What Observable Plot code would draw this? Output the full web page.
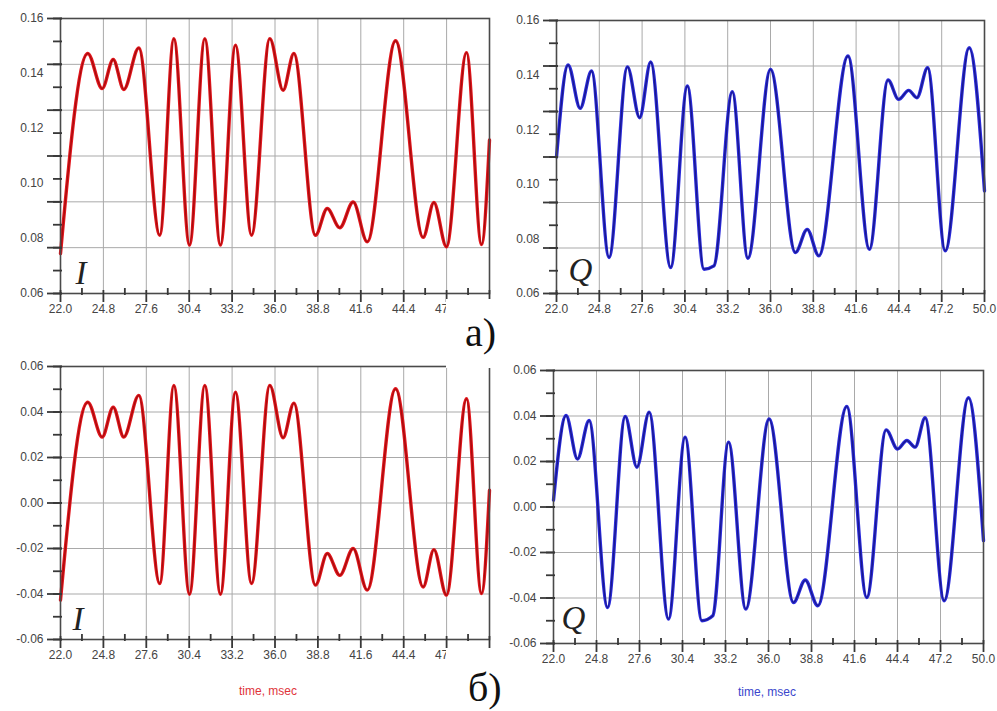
<!DOCTYPE html>
<html><head><meta charset="utf-8">
<script src="https://cdn.jsdelivr.net/npm/d3@7"></script>
<script src="https://cdn.jsdelivr.net/npm/@observablehq/plot@0.6"></script>
<style>
body{margin:0;background:#fff;width:997px;height:711px;overflow:hidden;position:relative;font-family:"Liberation Sans",Arial,sans-serif}
.panel{position:absolute}
.mask{position:absolute;background:#fff}
.tag{position:absolute;font-family:"Liberation Serif","Times New Roman",serif;font-size:40px;line-height:1;color:#111}
.xl{position:absolute;font-size:12px;line-height:1;transform:translateX(-50%);white-space:nowrap}
</style></head><body>
<div id="tl" class="panel" style="left:0;top:0;width:495px;height:330px"></div>
<div id="tr" class="panel" style="left:497px;top:0;width:500px;height:330px"></div>
<div id="bl" class="panel" style="left:0;top:340px;width:495px;height:340px"></div>
<div id="br" class="panel" style="left:497px;top:340px;width:500px;height:340px"></div>
<div class="mask" style="left:446px;top:299px;width:64px;height:69px"></div>
<div class="mask" style="left:446px;top:650px;width:62px;height:61px"></div>
<div class="tag" style="left:465px;top:313px">а)</div>
<div class="tag" style="left:468px;top:668px">б)</div>
<div class="xl" style="left:268px;top:685px;color:#e0343a">time, msec</div>
<div class="xl" style="left:767px;top:686px;color:#3a46cc">time, msec</div>
<script>
// ---- data ----
const xTicks = [22.0, 24.8, 27.6, 30.4, 33.2, 36.0, 38.8, 41.6, 44.4, 47.2, 50.0];
const xMinor = [23.4, 26.2, 29.0, 31.8, 34.6, 37.4, 40.2, 43.0, 45.8, 48.6];
const xLabelsLeft = [22.0, 24.8, 27.6, 30.4, 33.2, 36.0, 38.8, 41.6, 44.4, 47.2];
const xLabelsRight = [22.0, 24.8, 27.6, 30.4, 33.2, 36.0, 38.8, 41.6, 44.4, 47.2, 50.0];
const yLabelsA = [0.06, 0.08, 0.10, 0.12, 0.14, 0.16];
const yLabelsB = [-0.06, -0.04, -0.02, 0.00, 0.02, 0.04, 0.06];

const timeI = [22.0, 23.78, 24.72, 25.44, 26.13, 27.11, 28.48, 29.40, 30.42, 31.42, 32.44, 33.42, 34.47, 35.66, 36.53, 37.23, 38.64, 39.41, 40.23, 41.10, 42.02, 43.87, 45.67, 46.37, 47.19, 48.50, 49.48, 50.0];
const valIa = [0.0745, 0.1473, 0.1345, 0.1451, 0.1342, 0.1493, 0.0812, 0.1527, 0.0776, 0.1527, 0.0776, 0.1503, 0.0812, 0.1527, 0.1339, 0.1473, 0.0812, 0.0909, 0.0839, 0.0933, 0.0788, 0.1519, 0.0804, 0.0931, 0.0770, 0.1476, 0.0778, 0.1158];
const valIb = [-0.0427, 0.0443, 0.0290, 0.0421, 0.0290, 0.0473, -0.0354, 0.0517, -0.0401, 0.0517, -0.0401, 0.0487, -0.0354, 0.0517, 0.0287, 0.0439, -0.0361, -0.0222, -0.0318, -0.0200, -0.0383, 0.0502, -0.0369, -0.0205, -0.0405, 0.0458, -0.0398, 0.0056];

const timeQa = [22.0, 22.76, 23.55, 24.29, 25.44, 26.64, 27.44, 28.16, 29.47, 30.56, 31.65, 32.30, 33.50, 34.52, 36.0, 37.63, 38.40, 39.16, 41.07, 42.47, 43.69, 44.38, 45.04, 45.58, 46.28, 47.43, 49.00, 50.0];
const valQa = [0.1100, 0.1437, 0.1278, 0.1415, 0.0732, 0.1430, 0.1244, 0.1448, 0.0695, 0.1360, 0.0689, 0.0701, 0.1339, 0.0729, 0.1421, 0.0750, 0.0835, 0.0738, 0.1470, 0.0762, 0.1382, 0.1311, 0.1344, 0.1317, 0.1427, 0.0756, 0.1500, 0.0976];
const timeQb = [22.0, 22.82, 23.56, 24.32, 25.52, 26.67, 27.43, 28.23, 29.49, 30.57, 31.66, 32.37, 33.40, 34.52, 36.04, 37.63, 38.39, 39.21, 41.10, 42.40, 43.66, 44.40, 45.01, 45.55, 46.20, 47.44, 49.02, 50.0];
const valQb = [0.0030, 0.0402, 0.0211, 0.0380, -0.0442, 0.0398, 0.0175, 0.0417, -0.0493, 0.0307, -0.0500, -0.0478, 0.0285, -0.0449, 0.0387, -0.0420, -0.0321, -0.0434, 0.0442, -0.0398, 0.0339, 0.0255, 0.0292, 0.0263, 0.0392, -0.0412, 0.0480, -0.0148];

const RED = "#e3161d", RED_CORE = "#980a0a";
const BLUE = "#2b2bdc", BLUE_CORE = "#15157a";
const TICK = "#383838";

function panel(o) {
  const [y0, y1] = o.yDomain;
  const grid = d3.range(7).map(k => y0 + k * (y1 - y0) / 6);
  const minorY = d3.range(13).map(k => y0 + k * (y1 - y0) / 12);
  const data = o.times.map((t, i) => ({t, v: o.values[i]}));
  const [mL, mR, mT, mB] = o.m;
  const fw = o.W - mL - mR, fh = o.H - mT - mB;
  return Plot.plot({
    width: o.W, height: o.H,
    marginLeft: mL, marginRight: mR, marginTop: mT, marginBottom: mB,
    x: {domain: [22, 50], axis: null},
    y: {domain: o.yDomain, axis: null},
    marks: [
      Plot.gridX(xTicks, {stroke: "#a9a9a9", strokeOpacity: 1}),
      Plot.gridY(grid.slice(1, -1), {stroke: "#a9a9a9", strokeOpacity: 1}),
      Plot.line(data, {x: "t", y: "v", curve: "monotone-x", stroke: o.color, strokeWidth: 3.4}),
      Plot.line(data, {x: "t", y: "v", curve: "monotone-x", stroke: o.core, strokeWidth: 1.3, strokeOpacity: 0.8}),
      Plot.frame({stroke: "#4a4a4a", strokeWidth: 1.6}),
      Plot.tickX(xTicks, {x: d => d, insetTop: fh - 3, insetBottom: -9, stroke: TICK, strokeWidth: 1.8, strokeOpacity: 1}),
      Plot.tickX(xMinor, {x: d => d, insetTop: fh - 5, insetBottom: -2, stroke: TICK, strokeWidth: 1.8, strokeOpacity: 1}),
      Plot.tickY(grid, {y: d => d, insetLeft: -13, insetRight: fw - 2, stroke: TICK, strokeWidth: 1.8, strokeOpacity: 1}),
      Plot.tickY(minorY, {y: d => d, insetLeft: -7, insetRight: fw - 2, stroke: TICK, strokeWidth: 1.8, strokeOpacity: 1}),
      Plot.text(o.xLabels, {x: d => d, frameAnchor: "bottom", text: d => d.toFixed(1), dy: 19, fontSize: 12, fontFamily: "Liberation Sans, Arial, sans-serif", fill: "#444"}),
      Plot.text(o.yLabels, {y: d => d, frameAnchor: "left", text: d => d.toFixed(2), dx: -17, textAnchor: "end", fontSize: 12, fontFamily: "Liberation Sans, Arial, sans-serif", fill: "#444"}),
      Plot.text([o.letter], {text: d => d, frameAnchor: "bottom-left", textAnchor: "start", lineAnchor: "bottom", dx: o.ldx, dy: o.ldy, fontSize: 33, fontStyle: "italic", fontFamily: "Liberation Serif, Times New Roman, serif", fill: "#222"})
    ]
  });
}

document.getElementById("tl").append(panel({times: timeI, values: valIa, color: RED, core: RED_CORE, yDomain: [0.06, 0.16], yLabels: yLabelsA, xLabels: xLabelsLeft, letter: "I", W: 495, H: 330, m: [60, 6, 18, 37], ldx: 15, ldy: -10}));
document.getElementById("tr").append(panel({times: timeQa, values: valQa, color: BLUE, core: BLUE_CORE, yDomain: [0.06, 0.16], yLabels: yLabelsA, xLabels: xLabelsRight, letter: "Q", W: 500, H: 330, m: [59, 13, 20, 37], ldx: 12, ldy: -13}));
document.getElementById("bl").append(panel({times: timeI, values: valIb, color: RED, core: RED_CORE, yDomain: [-0.06, 0.06], yLabels: yLabelsB, xLabels: xLabelsLeft, letter: "I", W: 495, H: 340, m: [60, 6, 26, 41], ldx: 12, ldy: -10}));
document.getElementById("br").append(panel({times: timeQb, values: valQb, color: BLUE, core: BLUE_CORE, yDomain: [-0.06, 0.06], yLabels: yLabelsB, xLabels: xLabelsRight, letter: "Q", W: 500, H: 340, m: [56, 14, 30, 37], ldx: 8, ldy: -15}));
</script>
</body></html>
